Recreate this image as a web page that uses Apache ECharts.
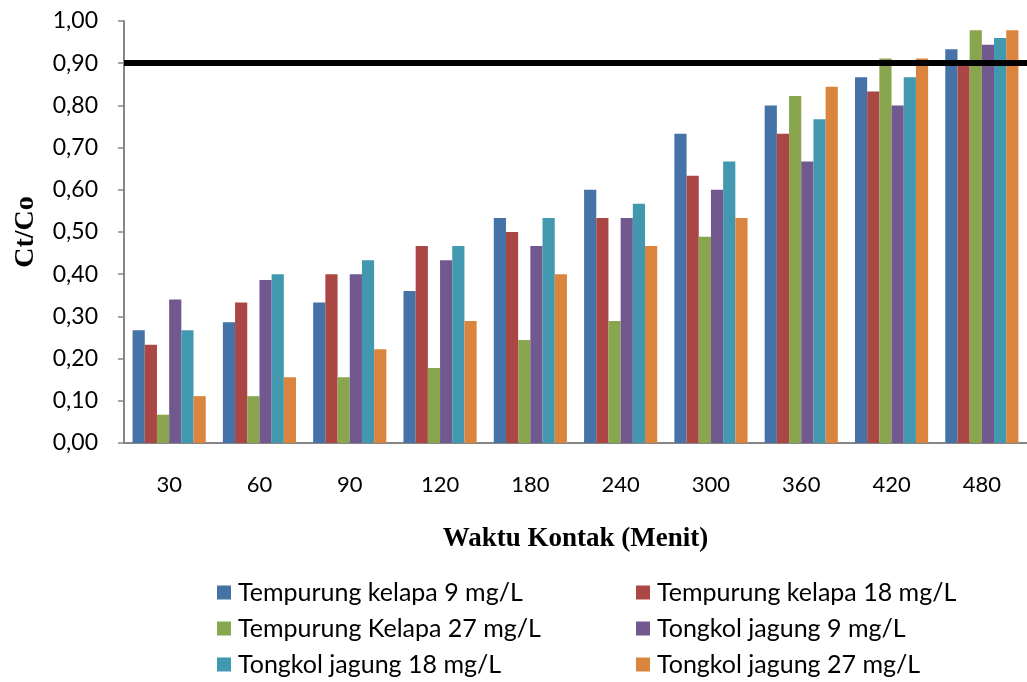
<!DOCTYPE html>
<html>
<head>
<meta charset="utf-8">
<script src="https://cdn.jsdelivr.net/npm/echarts@6/dist/echarts.min.js"></script>
<style>html,body{margin:0;padding:0;background:#fff}#c{width:1027px;height:682px}</style>
</head>
<body>
<div id="c"></div>
<script>
const categories = ['30','60','90','120','180','240','300','360','420','480'];
const seriesNames = ['Tempurung kelapa 9 mg/L','Tempurung kelapa 18 mg/L','Tempurung Kelapa 27 mg/L','Tongkol jagung 9 mg/L','Tongkol jagung 18 mg/L','Tongkol jagung 27 mg/L'];
const tk9  = [0.267,0.286,0.333,0.360,0.533,0.600,0.733,0.800,0.867,0.933];
const tk18 = [0.233,0.333,0.400,0.467,0.500,0.533,0.633,0.733,0.833,0.900];
const tk27 = [0.067,0.111,0.156,0.178,0.244,0.289,0.489,0.822,0.911,0.978];
const tj9  = [0.340,0.386,0.400,0.433,0.467,0.533,0.600,0.667,0.800,0.944];
const tj18 = [0.267,0.400,0.433,0.467,0.533,0.567,0.667,0.767,0.867,0.960];
const tj27 = [0.111,0.156,0.222,0.289,0.400,0.467,0.533,0.844,0.911,0.978];
const thresholdValue = 0.9;
const colors = ['#4572A7','#AA4643','#89A54E','#71588F','#4198AF','#DB843D'];
const values = [tk9, tk18, tk27, tj9, tj18, tj27];

const chart = echarts.init(document.getElementById('c'));
const sansFont = 'Lato';
const series = values.map((v, i) => ({
  name: seriesNames[i],
  type: 'bar',
  data: v,
  barGap: '0%',
  barCategoryGap: '19%',
  itemStyle: { color: colors[i] },
  animation: false
}));
series[0].markLine = {
  silent: true,
  symbol: ['none','none'],
  label: { show: false },
  lineStyle: { color: '#000', width: 6, type: 'solid' },
  data: [{ yAxis: thresholdValue }],
  animation: false
};
const legendCommon = {
  orient: 'vertical',
  icon: 'rect',
  itemWidth: 14,
  itemHeight: 14,
  itemGap: 11,
  padding: 0,
  height: 110,
  selectedMode: false,
  textStyle: { fontFamily: sansFont, fontSize: 25, color: '#000', lineHeight: 24, padding: [0,0,0,2] }
};
chart.setOption({
  animation: false,
  color: colors,
  grid: { left: 124, right: 0, top: 21, bottom: 239, containLabel: false },
  legend: [
    Object.assign({ left: 217, top: 580, data: [seriesNames[0], seriesNames[2], seriesNames[4]] }, legendCommon),
    Object.assign({ left: 636, top: 580, data: [seriesNames[1], seriesNames[3], seriesNames[5]] }, legendCommon)
  ],
  xAxis: {
    type: 'category',
    data: categories,
    name: 'Waktu Kontak (Menit)',
    nameLocation: 'middle',
    nameGap: 83,
    nameTextStyle: { fontFamily: 'Liberation Serif', fontWeight: 'bold', fontSize: 27, color: '#000' },
    axisLine: { lineStyle: { color: '#868686', width: 2 } },
    axisTick: { show: false },
    axisLabel: { fontFamily: sansFont, fontSize: 22, color: '#000', margin: 31 }
  },
  yAxis: {
    type: 'value',
    min: 0, max: 1, interval: 0.1,
    name: 'Ct/Co',
    nameLocation: 'middle',
    nameGap: 84,
    nameTextStyle: { fontFamily: 'Liberation Serif', fontWeight: 'bold', fontSize: 28, color: '#000' },
    axisLine: { show: true, lineStyle: { color: '#868686', width: 2 } },
    axisTick: { show: true, length: 6, lineStyle: { color: '#868686', width: 1.5 } },
    splitLine: { show: false },
    axisLabel: {
      fontFamily: sansFont, fontSize: 23, color: '#000', margin: 26,
      formatter: v => v.toFixed(2).replace('.', ',')
    }
  },
  series: series
});
</script>
</body>
</html>
